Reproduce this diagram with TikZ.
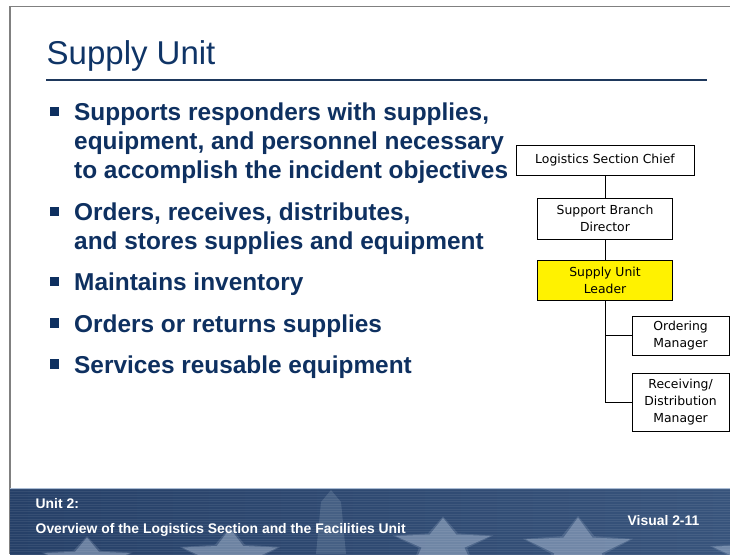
\documentclass[tikz,border=0pt]{standalone}
\usepackage{fontspec}
\setmainfont{Liberation Sans}
\newfontfamily\orgfont{DejaVu Sans}

\definecolor{titleblue}{RGB}{15,52,102}
\definecolor{textnavy}{RGB}{14,48,96}
\definecolor{rulenavy}{RGB}{30,56,92}
\definecolor{bandL}{RGB}{38,64,104}
\definecolor{bandM}{RGB}{72,100,140}
\definecolor{bandR}{RGB}{56,84,124}
\definecolor{starpale}{RGB}{170,188,212}

\tikzset{
  orgbox/.style={draw, line width=0.8pt, fill=white, align=center, inner sep=0pt,
    font=\orgfont\fontsize{12.4}{17}\selectfont},
  bulletsq/.style={fill=textnavy, minimum size=9.5pt, inner sep=0pt},
  bullettext/.style={anchor=base west, inner sep=0pt, text=textnavy, align=left,
    font=\bfseries\fontsize{24.4}{29}\selectfont},
  foottext/.style={anchor=base west, inner sep=0pt, text=white,
    font=\bfseries\fontsize{13.9}{16}\selectfont},
}

\begin{document}
\begin{tikzpicture}[x=1pt,y=-1pt]
\useasboundingbox (0,0) rectangle (730,554);

% slide frame
\draw[gray, line width=1.5pt] (10,554) -- (10,6.7) -- (730,6.7);

% footer band
\begin{scope}
\clip (10,488) rectangle (730,554);
\shade[left color=bandL, middle color=bandM, right color=bandR] (10,488) rectangle (730,554);
\foreach \cx/\cy/\r/\s in {87/560/45/0.5, 230/556/50/0.55, 443/544/50/0.52, 578/549/55/0.57, 765/556/55/0.55}{
  \fill[starpale, opacity=0.2] plot[samples at={0,...,9}]
    ({\cx+(1-0.52*mod(\x,2))*(\r+3)*cos(-90+36*\x)}, {\cy+\s*(1-0.52*mod(\x,2))*(\r+3)*sin(-90+36*\x)}) -- cycle;
  \fill[starpale, opacity=0.4] plot[samples at={0,...,9}]
    ({\cx+(1-0.55*mod(\x,2))*\r*cos(-90+36*\x)}, {\cy+\s*(1-0.55*mod(\x,2))*\r*sin(-90+36*\x)}) -- cycle;
}
\fill[starpale, opacity=0.2] (316,554) -- (321,502) -- (331,490) -- (341,502) -- (346,554) -- cycle;
\foreach \yy in {489,491.5,...,554}
  \draw[white, opacity=0.07, line width=0.8pt] (10,\yy) -- (730,\yy);
\end{scope}
\draw[starpale, line width=1pt] (10,488.3) -- (730,488.3);

\node[foottext] (unit) at (35.5,508) {Unit 2:};
\node[foottext] (course) at (35.5,533.3) {Overview of the Logistics Section and the Facilities Unit};
\node[foottext] (visual) at (627.5,525.7) {Visual 2-11};

% title
\node[anchor=base west, inner sep=0pt, text=titleblue, font=\fontsize{33}{40}\selectfont] (title) at (46.5,64) {Supply Unit};
\draw[rulenavy, line width=2pt] (46,79.7) -- (707,79.7);

% bullets
\node[bulletsq] (q1) at (54.7,111.3) {};
\node[bulletsq] (q2) at (54.7,211.3) {};
\node[bulletsq] (q3) at (54.7,281.3) {};
\node[bulletsq] (q4) at (54.7,323) {};
\node[bulletsq] (q5) at (54.7,364) {};

\node[bullettext] (b1) at (74,178.3) {Supports responders with supplies,\\equipment, and personnel necessary\\to accomplish the incident objectives};
\node[bullettext] (b2) at (74,249.3) {Orders, receives, distributes,\\and stores supplies and equipment};
\node[bullettext] (b3) at (74,290.3) {Maintains inventory};
\node[bullettext] (b4) at (74,332) {Orders or returns supplies};
\node[bullettext] (b5) at (74,373) {Services reusable equipment};

% org chart
\node[orgbox, minimum width=178pt, minimum height=30pt] (chief) at (605,160) {Logistics Section Chief};
\node[orgbox, minimum width=134.6pt, minimum height=40.7pt] (branch) at (605,218.7) {Support Branch\\Director};
\node[orgbox, fill=yellow, minimum width=134.6pt, minimum height=40.7pt] (supply) at (605,280.3) {Supply Unit\\Leader};
\node[orgbox, minimum width=97.3pt, minimum height=39.3pt] (ordering) at (680.6,335.7) {Ordering\\Manager};
\node[orgbox, minimum width=97.3pt, minimum height=57.7pt] (receiving) at (680.6,402.1) {Receiving/\\Distribution\\Manager};

\draw[line width=0.8pt] (chief) -- (branch);
\draw[line width=0.8pt] (branch) -- (supply);
\draw[line width=0.8pt] (supply.south) |- (ordering.west);
\draw[line width=0.8pt] (supply.south) |- (receiving.west);
\end{tikzpicture}
\end{document}
